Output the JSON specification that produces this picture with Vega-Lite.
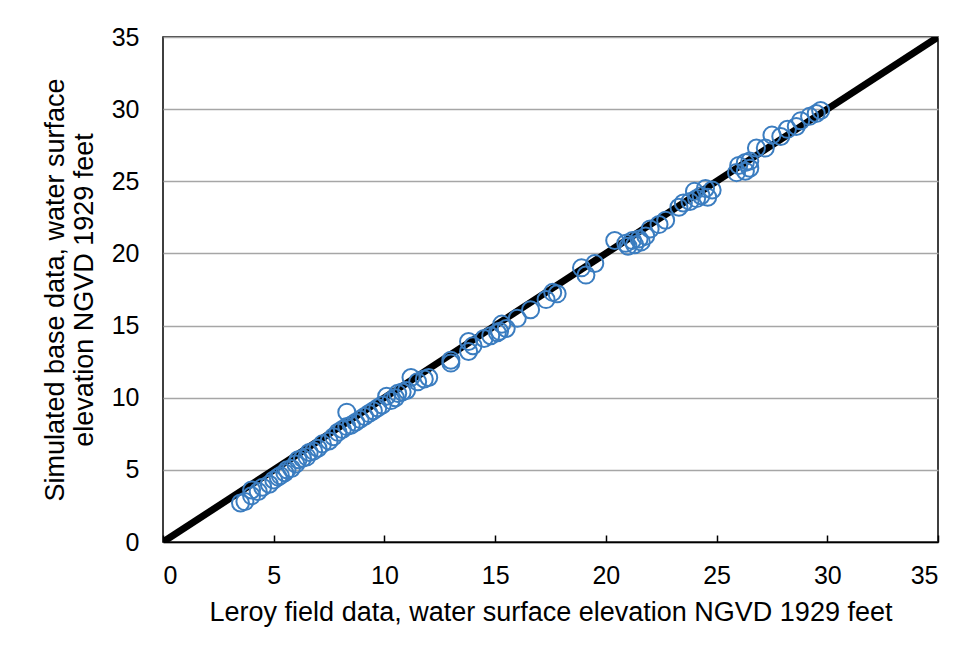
{
  "$schema": "https://vega.github.io/schema/vega-lite/v6.json",
  "width": 775,
  "height": 505,
  "autosize": {"type": "none"},
  "padding": {"left": 163, "top": 37, "right": 31, "bottom": 114},
  "background": "white",
  "config": {
    "view": {"stroke": "black", "strokeWidth": 1.5},
    "font": "Liberation Sans"
  },
  "datasets": {
    "obs": [
      {"field": 3.5, "sim": 2.7}, {"field": 3.7, "sim": 2.8}, {"field": 4.0, "sim": 3.2}, {"field": 4.0, "sim": 3.6},
      {"field": 4.3, "sim": 3.5}, {"field": 4.5, "sim": 3.8}, {"field": 4.8, "sim": 4.0}, {"field": 5.0, "sim": 4.3},
      {"field": 5.2, "sim": 4.5}, {"field": 5.3, "sim": 4.6}, {"field": 5.5, "sim": 4.8}, {"field": 5.6, "sim": 5.0},
      {"field": 5.8, "sim": 5.1}, {"field": 6.0, "sim": 5.4}, {"field": 6.1, "sim": 5.7}, {"field": 6.3, "sim": 5.8},
      {"field": 6.5, "sim": 5.9}, {"field": 6.6, "sim": 6.2}, {"field": 6.8, "sim": 6.3}, {"field": 7.0, "sim": 6.5},
      {"field": 7.2, "sim": 6.8}, {"field": 7.5, "sim": 7.0}, {"field": 7.7, "sim": 7.3}, {"field": 7.9, "sim": 7.6},
      {"field": 8.1, "sim": 7.8}, {"field": 8.3, "sim": 9.0}, {"field": 8.3, "sim": 8.0}, {"field": 8.5, "sim": 8.1},
      {"field": 8.7, "sim": 8.3}, {"field": 8.9, "sim": 8.5}, {"field": 9.1, "sim": 8.7}, {"field": 9.3, "sim": 8.9},
      {"field": 9.5, "sim": 9.1}, {"field": 9.7, "sim": 9.3}, {"field": 9.9, "sim": 9.5}, {"field": 10.1, "sim": 10.1},
      {"field": 10.3, "sim": 9.8}, {"field": 10.5, "sim": 10.0}, {"field": 10.6, "sim": 10.3}, {"field": 10.8, "sim": 10.4},
      {"field": 11.0, "sim": 10.5}, {"field": 11.2, "sim": 11.4}, {"field": 11.5, "sim": 11.1}, {"field": 11.8, "sim": 11.3},
      {"field": 12.0, "sim": 11.4}, {"field": 13.0, "sim": 12.4}, {"field": 13.0, "sim": 12.6}, {"field": 13.8, "sim": 13.2},
      {"field": 13.8, "sim": 13.9}, {"field": 14.0, "sim": 13.6}, {"field": 14.5, "sim": 14.1}, {"field": 14.8, "sim": 14.3},
      {"field": 15.1, "sim": 14.5}, {"field": 15.3, "sim": 15.1}, {"field": 15.2, "sim": 14.6}, {"field": 15.5, "sim": 14.8},
      {"field": 16.0, "sim": 15.5}, {"field": 16.6, "sim": 16.1}, {"field": 17.3, "sim": 16.8}, {"field": 17.6, "sim": 17.3},
      {"field": 17.8, "sim": 17.2}, {"field": 18.9, "sim": 19.0}, {"field": 19.1, "sim": 18.5}, {"field": 19.5, "sim": 19.3},
      {"field": 20.4, "sim": 20.9}, {"field": 20.9, "sim": 20.7}, {"field": 21.0, "sim": 20.5}, {"field": 21.2, "sim": 20.9},
      {"field": 21.3, "sim": 20.6}, {"field": 21.5, "sim": 21.0}, {"field": 21.6, "sim": 20.8}, {"field": 21.8, "sim": 21.2},
      {"field": 22.0, "sim": 21.7}, {"field": 22.4, "sim": 22.0}, {"field": 22.7, "sim": 22.3}, {"field": 23.3, "sim": 23.2},
      {"field": 23.5, "sim": 23.5}, {"field": 23.8, "sim": 23.6}, {"field": 24.0, "sim": 24.3}, {"field": 24.1, "sim": 23.8},
      {"field": 24.3, "sim": 24.0}, {"field": 24.5, "sim": 24.5}, {"field": 24.6, "sim": 23.9}, {"field": 24.8, "sim": 24.4},
      {"field": 25.9, "sim": 25.6}, {"field": 26.0, "sim": 26.1}, {"field": 26.3, "sim": 26.3}, {"field": 26.3, "sim": 25.7},
      {"field": 26.5, "sim": 25.9}, {"field": 26.5, "sim": 26.4}, {"field": 26.8, "sim": 27.3}, {"field": 27.2, "sim": 27.3},
      {"field": 27.5, "sim": 28.2}, {"field": 27.9, "sim": 28.1}, {"field": 28.2, "sim": 28.6}, {"field": 28.6, "sim": 28.8},
      {"field": 28.8, "sim": 29.2}, {"field": 29.2, "sim": 29.5}, {"field": 29.5, "sim": 29.7}, {"field": 29.7, "sim": 29.9}
    ],
    "oneToOne": [{"field": 0, "sim": 0}, {"field": 35, "sim": 35}]
  },
  "encoding": {
    "x": {
      "field": "field", "type": "quantitative",
      "scale": {"domain": [0, 35], "nice": false, "zero": true},
      "axis": {
        "values": [0, 5, 10, 15, 20, 25, 30, 35],
        "title": "Leroy field data, water surface elevation NGVD 1929 feet",
        "grid": false,
        "domainColor": "black", "domainWidth": 1.5,
        "tickColor": "black", "tickSize": -7, "tickWidth": 1.5,
        "labelFont": "Liberation Sans", "labelFontSize": 25, "labelColor": "black", "labelPadding": 28,
        "titleFont": "Liberation Sans", "titleFontSize": 27, "titleFontWeight": "normal", "titleColor": "black", "titlePadding": 11
      }
    },
    "y": {
      "field": "sim", "type": "quantitative",
      "scale": {"domain": [0, 35], "nice": false, "zero": true},
      "axis": {
        "values": [0, 5, 10, 15, 20, 25, 30, 35],
        "title": ["Simulated base data, water surface", "elevation NGVD 1929 feet"],
        "grid": true, "gridColor": "#a6a6a6", "gridWidth": 1.5,
        "domain": false, "ticks": false,
        "labelFont": "Liberation Sans", "labelFontSize": 25, "labelColor": "black", "labelPadding": 24,
        "titleFont": "Liberation Sans", "titleFontSize": 27, "titleFontWeight": "normal", "titleColor": "black", "titlePadding": 13, "titleLineHeight": 29
      }
    }
  },
  "layer": [
    {
      "data": {"name": "oneToOne"},
      "mark": {"type": "line", "color": "black", "strokeWidth": 7, "clip": true}
    },
    {
      "data": {"name": "obs"},
      "mark": {"type": "point", "shape": "circle", "filled": false, "color": "#3b7dc0", "strokeWidth": 2, "size": 290, "opacity": 1}
    }
  ]
}
